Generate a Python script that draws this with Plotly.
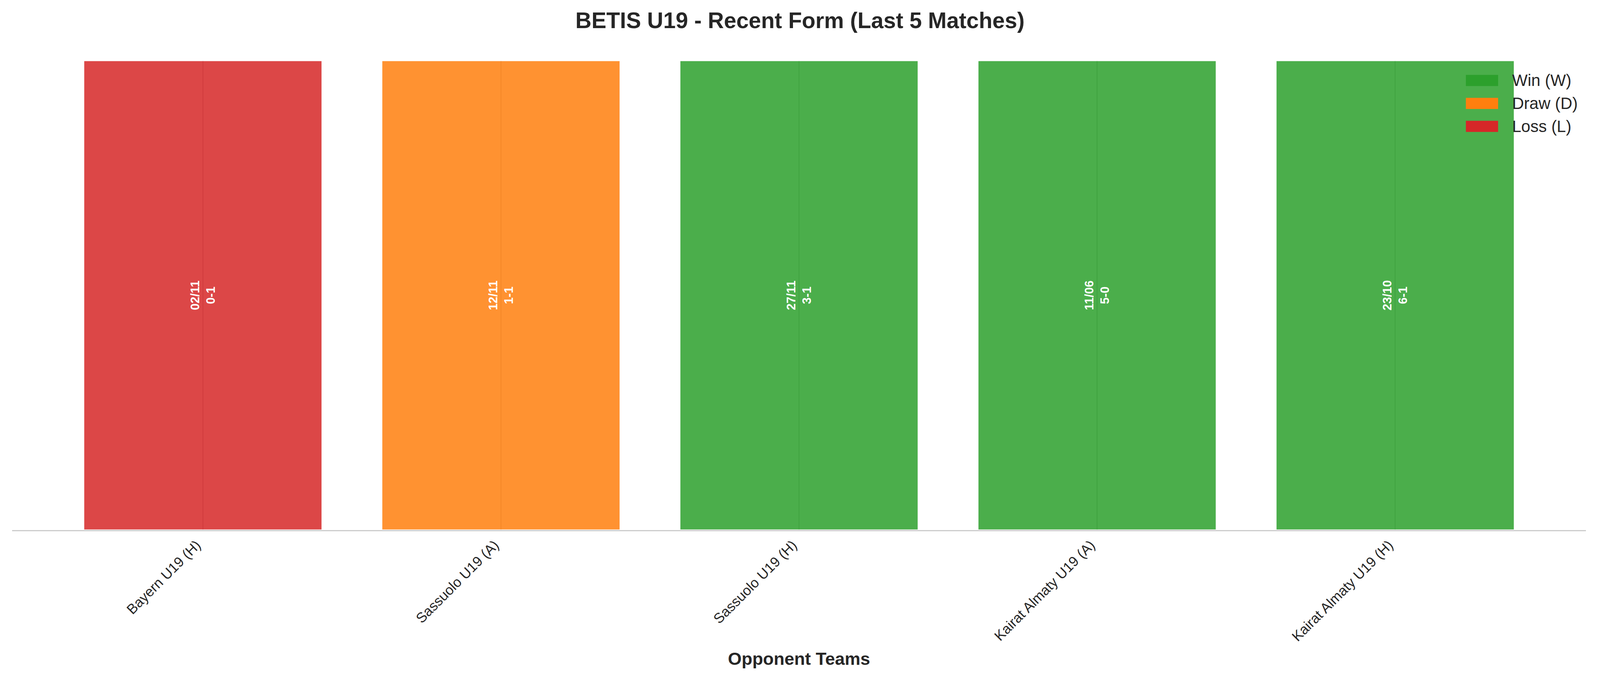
import plotly.graph_objects as go

# last 5 matches (oldest -> newest as shown)
opponents = ["Bayern U19 (H)", "Sassuolo U19 (A)", "Sassuolo U19 (H)",
             "Kairat Almaty U19 (A)", "Kairat Almaty U19 (H)"]
dates = ["02/11", "12/11", "27/11", "11/06", "23/10"]
scores = ["0-1", "1-1", "3-1", "5-0", "6-1"]
results = ["L", "D", "W", "W", "W"]
bar_height = [1, 1, 1, 1, 1]

result_names = {"W": "Win (W)", "D": "Draw (D)", "L": "Loss (L)"}
result_colors = {"W": "#2ca02c", "D": "#ff7f0e", "L": "#d62728"}
legend_order = ["W", "D", "L"]

# plot area in the reference picture (px)
PL, PR, PT, PB = 29, 4132, 157, 1384
FONT = "Liberation Sans, Arial, sans-serif"
TXT = "#262626"


def main():
    fig = go.Figure()

    fig.add_trace(go.Bar(
        x=opponents,
        y=bar_height,
        marker=dict(color=[result_colors[r] for r in results], opacity=0.85,
                    line=dict(color="white", width=3)),
        text=[d + "<br>" + s for d, s in zip(dates, scores)],
        textposition="inside",
        insidetextanchor="middle",
        textangle=-90,
        textfont=dict(family=FONT, size=31, color="white", weight="bold"),
        showlegend=False,
        hoverinfo="x",
    ))

    # legend drawn by hand so the patches get the matplotlib-like size
    pw, ph = PR - PL, PB - PT
    for i, r in enumerate(legend_order):
        yc = 209 + i * 60
        fig.add_shape(type="rect", xref="paper", yref="paper",
                      x0=(3819 - PL) / pw, x1=(3903 - PL) / pw,
                      y0=(PB - (yc - 14.5)) / ph, y1=(PB - (yc + 14.5)) / ph,
                      fillcolor=result_colors[r], line_width=0, layer="above")
        fig.add_annotation(text=result_names[r], xref="paper", yref="paper",
                           x=(3937 - PL) / pw, y=(PB - yc) / ph,
                           xanchor="left", yanchor="middle", showarrow=False,
                           font=dict(family=FONT, size=42, color=TXT))

    fig.update_layout(
        margin=dict(l=23, r=28, t=147, b=404),
        paper_bgcolor="white", plot_bgcolor="white",
        bargap=0.2,
        title=dict(text="<b>BETIS U19 - Recent Form (Last 5 Matches)</b>",
                   x=0.5, xref="container", xanchor="center",
                   y=0.975, yref="container", yanchor="middle",
                   font=dict(family=FONT, size=57, color=TXT)),
        xaxis=dict(range=[-0.64, 4.64], tickangle=-45,
                   tickfont=dict(family=FONT, size=36, color=TXT),
                   ticklabelstandoff=0, ticklabelshift=-16,
                   showgrid=True, gridcolor="#cccccc", gridwidth=3,
                   showline=True, linecolor="#cccccc", linewidth=3,
                   zeroline=False, ticks="",
                   title=dict(text="<b>Opponent Teams</b>", standoff=22,
                              font=dict(family=FONT, size=45, color=TXT))),
        yaxis=dict(range=[0, 1], showgrid=False, showticklabels=False,
                   zeroline=False, showline=False, ticks=""),
        showlegend=False,
    )

    fig.write_html("out.html")


if __name__ == '__main__':
    main()
